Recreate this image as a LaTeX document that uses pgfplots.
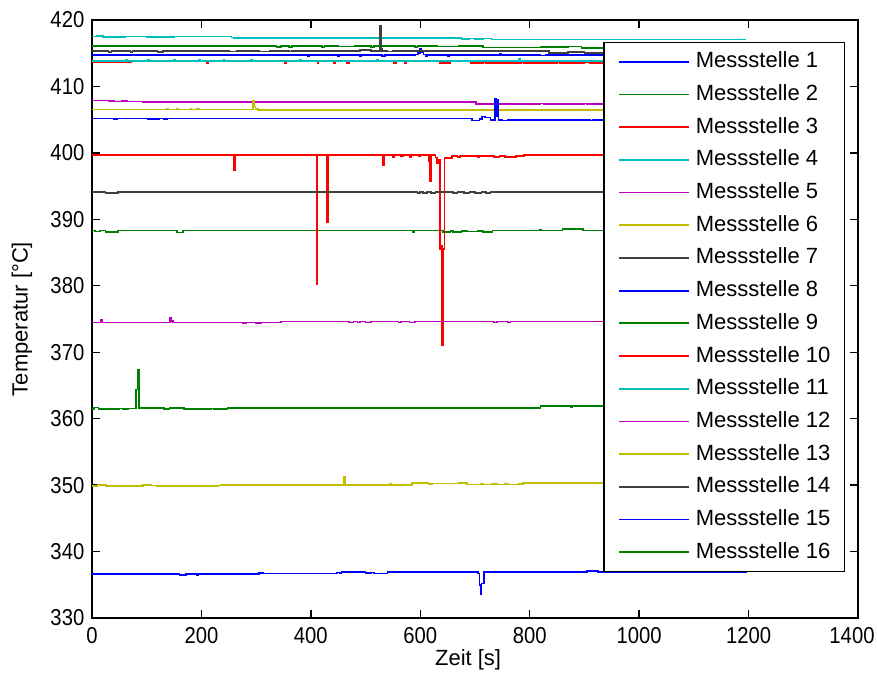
\documentclass[border=0pt]{standalone}
\usepackage{fontspec}
\setmainfont{Liberation Sans}
\newfontfamily\tickfont{Liberation Sans}[FakeStretch=0.88]
\usepackage{pgfplots}
\pgfplotsset{compat=1.18}
\definecolor{mb}{rgb}{0,0,1}
\definecolor{mg}{rgb}{0,0.5,0}
\definecolor{mr}{rgb}{1,0,0}
\definecolor{mc}{rgb}{0,0.75,0.75}
\definecolor{mm}{rgb}{0.75,0,0.75}
\definecolor{my}{rgb}{0.75,0.75,0}
\definecolor{mk}{rgb}{0.25,0.25,0.25}
\begin{document}
\fontsize{11}{13}\selectfont
\begin{tikzpicture}
\useasboundingbox (-46pt,-32pt) rectangle (392.5pt,309pt);
\begin{axis}[at={(0,0)}, anchor=south west, scale only axis,
  width=383pt, height=299pt,
  xmin=0, xmax=1400, ymin=330, ymax=420,
  xtick={0,200,...,1400}, ytick={330,340,...,420},
  xticklabels={0,200,400,600,800,1000,1200,\hspace*{-6pt}1400},
  tick align=inside, major tick length=4pt,
  axis line style={line width=0.7pt},
  tick style={line width=0.7pt, black},
  /pgf/number format/assume math mode=true,
  /pgf/number format/set thousands separator={},
  ticklabel style={font=\tickfont\fontsize{11.5}{13}\selectfont},
  xticklabel style={yshift=-1pt},
  xlabel={Zeit [s]}, ylabel={Temperatur [°C]},
  label style={font=\fontsize{11}{13}\selectfont},
  xlabel style={at={(axis description cs:0.491,-0.0702)}, anchor=center},
  ylabel style={at={(axis description cs:-0.0914,0.5)}, anchor=center},
  every axis plot/.append style={const plot, line width=0.8pt},
  legend cell align=left,
  legend image code/.code={\draw[#1, line width=0.9pt] (0pt,0pt) -- (35pt,0pt);},
  legend style={at={(rel axis cs:0.983,0.9637)}, anchor=north east,
    draw=black, fill=white, line width=0.6pt,
    font=\fontsize{11}{13}\selectfont,
    inner xsep=7pt, inner ysep=4.7pt, row sep=6.35pt,
    nodes={inner sep=0pt, text height=8pt, text depth=2pt},
    /tikz/every odd column/.style={column sep=3pt}},
]
% 1 blue
\addplot[mb] coordinates {(0,414.75)(45,414.75)(46,414.7)(120,414.7)(121,414.75)(300,414.75)(305,414.7)(350,414.65)(352,414.7)(395,414.6)(397,414.7)(450,414.6)(452,414.7)(490,414.55)(492,414.7)(530,414.62)(535,414.7)(590,414.8)(596,415.0)(600,415.6)(602,415.1)(606,414.8)(610,414.6)(612,414.7)(650,414.55)(652,414.7)(745,414.85)(747,414.7)(820,414.65)(830,414.7)(1195,414.7)};
\addlegendentry{Messstelle 1}
% 2 green
\addplot[mg] coordinates {(0,416.1)(335,416.1)(337,415.95)(345,416.05)(360,415.95)(365,416.05)(390,416.1)(420,415.95)(425,416.05)(450,416.0)(480,416.05)(500,416.1)(510,415.95)(515,416.05)(530,416.12)(540,416.05)(590,415.95)(595,416.05)(630,416.0)(670,416.05)(715,415.85)(780,415.85)(820,415.9)(870,416.0)(895,415.8)(1195,415.78)};
\addlegendentry{Messstelle 2}
% 3 red
\addplot[mr] coordinates {(0,413.68)(72,413.75)(205,413.75)(210,413.5)(212,413.75)(348,413.75)(352,413.5)(355,413.75)(410,413.75)(412,413.5)(414,413.75)(440,413.75)(442,413.5)(444,413.75)(465,413.5)(470,413.75)(552,413.5)(556,413.75)(572,413.5)(575,413.75)(635,413.5)(655,413.75)(692,413.5)(715,413.6)(720,413.5)(778,413.5)(785,413.6)(790,413.5)(850,413.6)(855,413.5)(900,413.6)(910,413.5)(1195,413.5)};
\addlegendentry{Messstelle 3}
% 4 cyan
\addplot[mc] coordinates {(0,417.5)(8,417.58)(20,417.45)(60,417.5)(100,417.48)(150,417.52)(160,417.5)(255,417.35)(260,417.3)(530,417.28)(675,417.15)(690,417.22)(700,417.15)(715,417.22)(730,417.05)(1195,417.05)};
\addlegendentry{Messstelle 4}
% 5 magenta
\addplot[mm] coordinates {(0,407.86)(30,407.8)(40,407.75)(55,407.85)(65,407.75)(90,407.75)(92,407.7)(700,407.7)(702,407.35)(815,407.35)(820,407.45)(825,407.35)(900,407.42)(905,407.35)(1195,407.35)};
\addlegendentry{Messstelle 5}
% 6 yellow
\addplot[my] coordinates {(0,406.55)(135,406.55)(137,406.7)(139,406.55)(155,406.7)(157,406.55)(180,406.7)(182,406.55)(192,406.7)(196,406.55)(294,407.8)(296,407.0)(299,406.65)(303,406.5)(1195,406.5)};
\addlegendentry{Messstelle 6}
% 7 black
\addplot[mk] coordinates {(0,415.3)(30,415.2)(36,415.3)(70,415.2)(74,415.3)(120,415.2)(130,415.3)(250,415.25)(265,415.3)(305,415.25)(325,415.3)(360,415.25)(366,415.3)(490,415.45)(510,415.35)(526,419.1)(528,415.6)(530,415.3)(540,415.25)(550,415.3)(835,415.0)(870,415.15)(900,415.0)(1195,415.0)};
\addlegendentry{Messstelle 7}
% 8 blue
\addplot[mb] coordinates {(0,405.2)(40,405.1)(46,405.2)(102,405.1)(122,405.2)(132,405.1)(138,405.2)(695,404.85)(708,405.1)(713,405.45)(718,405.3)(728,404.95)(737,408.2)(739,405.5)(741,408.0)(743,404.95)(750,404.9)(760,404.95)(800,404.95)(808,404.85)(812,404.95)(910,404.85)(915,404.95)(1195,404.9)};
\addlegendentry{Messstelle 8}
% 9 green
\addplot[mg] coordinates {(0,388.3)(5,388.15)(15,388.3)(25,388.1)(48,388.3)(155,388.0)(166,388.3)(586,388.1)(589,388.3)(642,388.1)(655,388.25)(660,388.1)(675,388.25)(685,388.15)(705,388.25)(715,388.1)(732,388.3)(818,388.45)(821,388.3)(860,388.55)(897,388.3)(1195,388.3)};
\addlegendentry{Messstelle 9}
% 10 red
\addplot[mr] coordinates {(0,399.65)(260,397.4)(262,399.65)(410,380.3)(412,399.65)(430,389.5)(432,399.65)(532,398.2)(534,399.65)(550,399.35)(553,399.65)(565,399.45)(568,399.65)(580,399.35)(583,399.65)(598,399.5)(600,399.65)(616,398.8)(618,395.8)(620,399.65)(628,399.3)(631,398.4)(633,399.0)(636,385.5)(638,386.0)(640,371.1)(642,385.5)(644,399.2)(658,399.55)(668,399.4)(673,399.55)(705,399.4)(708,399.55)(735,399.4)(745,399.55)(755,399.4)(775,399.55)(790,399.65)(1195,399.65)};
\addlegendentry{Messstelle 10}
% 11 cyan
\addplot[mc] coordinates {(0,413.85)(60,413.85)(62,413.95)(64,413.85)(100,413.85)(102,413.95)(104,413.85)(150,413.95)(152,413.85)(195,413.95)(197,413.85)(240,413.95)(242,413.85)(290,413.95)(292,413.85)(380,413.95)(382,413.85)(520,413.95)(523,413.85)(780,414.2)(782,413.85)(1195,413.8)};
\addlegendentry{Messstelle 11}
% 12 magenta
\addplot[mm] coordinates {(0,374.45)(16,374.85)(18,374.45)(143,375.25)(145,374.7)(148,374.45)(275,374.4)(282,374.5)(300,374.4)(310,374.45)(345,374.6)(470,374.45)(478,374.6)(485,374.45)(490,374.6)(500,374.45)(510,374.6)(560,374.45)(565,374.6)(580,374.45)(590,374.6)(735,374.45)(740,374.6)(760,374.45)(765,374.6)(1195,374.6)};
\addlegendentry{Messstelle 12}
% 13 yellow
\addplot[my] coordinates {(0,349.9)(10,350.05)(18,349.95)(22,350.05)(26,349.9)(93,350.05)(108,349.95)(118,349.9)(230,349.95)(236,350.05)(460,351.3)(462,350.05)(545,350.15)(547,350.05)(585,350.3)(615,350.15)(622,350.25)(640,350.25)(670,350.3)(685,350.1)(710,350.15)(715,350.1)(730,350.15)(740,350.1)(755,350.2)(760,350.1)(780,350.2)(788,350.3)(1195,350.3)};
\addlegendentry{Messstelle 13}
% 14 black
\addplot[mk] coordinates {(0,394.15)(25,393.95)(48,394.15)(595,394.0)(600,394.15)(605,394.0)(612,394.15)(620,394.0)(628,394.15)(660,394.0)(668,394.1)(680,394.0)(690,394.1)(700,394.0)(712,394.1)(720,394.0)(728,394.15)(1195,394.15)};
\addlegendentry{Messstelle 14}
% 15 blue
\addplot[mb] coordinates {(0,336.65)(160,336.45)(172,336.6)(192,336.45)(194,336.65)(305,336.8)(312,336.7)(448,336.85)(452,336.75)(456,336.9)(500,336.75)(510,336.85)(515,336.7)(540,336.9)(705,336.7)(708,335.0)(710,333.6)(712,335.2)(716,336.95)(905,337.1)(925,336.95)(1195,337.0)};
\addlegendentry{Messstelle 15}
% 16 green
\addplot[mg] coordinates {(0,361.5)(4,361.7)(12,361.5)(38,361.45)(50,361.55)(56,361.45)(66,361.55)(80,364.4)(84,367.3)(86,361.6)(132,361.45)(142,361.6)(168,361.45)(185,361.5)(190,361.45)(218,361.55)(222,361.45)(248,361.6)(820,361.9)(875,361.8)(878,361.9)(1195,361.85)};
\addlegendentry{Messstelle 16}
\end{axis}
\end{tikzpicture}
\end{document}
